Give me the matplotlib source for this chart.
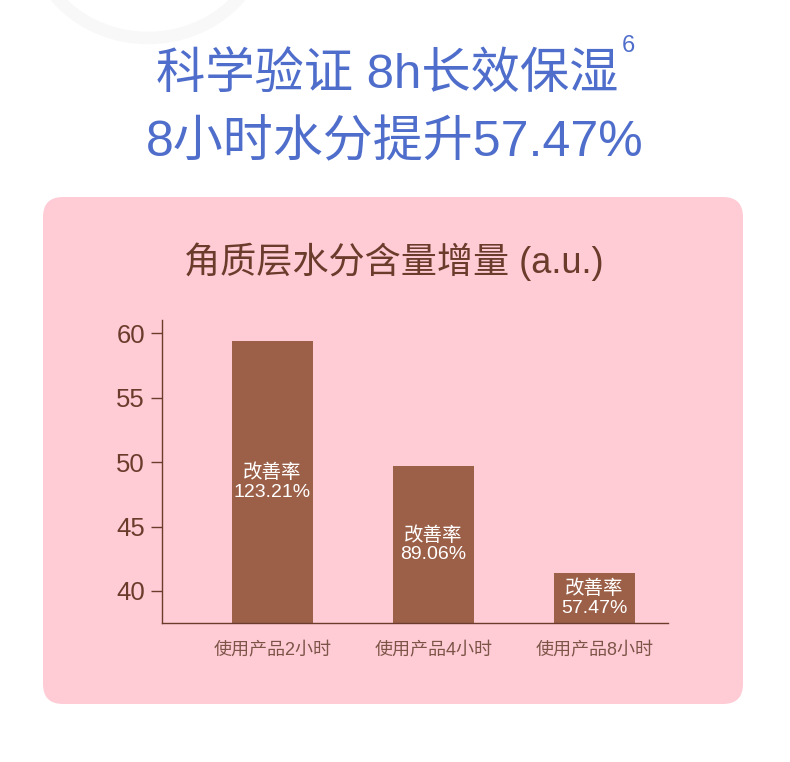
import matplotlib.pyplot as plt
from matplotlib.patches import FancyBboxPatch, Ellipse

# data
groups = ['使用产品2小时', '使用产品4小时', '使用产品8小时']
values = [59.4, 49.7, 41.4]
rates = ['123.21%', '89.06%', '57.47%']
yticks = [40, 45, 50, 55, 60]

W, H = 790, 762
fams = ['Liberation Sans', 'Noto Sans CJK SC']
plt.rcParams['font.family'] = fams

fig = plt.figure(figsize=(W / 100, H / 100), dpi=100)
fig.patch.set_facecolor('white')

# faint decorative arc at top-left
bg = fig.add_axes([0, 0, 1, 1])
bg.set_xlim(0, W)
bg.set_ylim(H, 0)
bg.axis('off')
bg.add_patch(Ellipse((148, -72), 236, 220, facecolor='none',
                     edgecolor='#f7f8f7', lw=9))

# pink panel
bg.add_patch(FancyBboxPatch((63, 217), 660, 467,
                            boxstyle='round,pad=20', facecolor='#ffccd6',
                            edgecolor='none'))

blue = '#4f6dcb'
bg.text(387, 75, '科学验证 8h长效保湿', color=blue, fontsize=35.5,
        ha='center', va='center')
bg.text(628, 46, '6', color=blue, fontsize=17, ha='center', va='center')
bg.text(395, 143, '8小时水分提升57.47%', color=blue, fontsize=36,
        ha='center', va='center')

bg.text(394, 262, '角质层水分含量增量 (a.u.)', color='#6b3b2c', fontsize=26,
        ha='center', va='center')

# chart axes
ax = fig.add_axes([161.7 / W, 1 - 623.3 / H, (668.3 - 161.7) / W, (623.3 - 320) / H])
ax.set_facecolor('none')
x = range(len(groups))
ax.bar(x, values, width=0.5, color='#9c6049', zorder=2)
ax.set_xlim(-0.688, 2.458)
ax.set_ylim(37.49, 61.03)

for i, (v, r) in enumerate(zip(values, rates)):
    ax.text(i, (37.49 + v) / 2, '改善率\n' + r, color='white', fontsize=14,
            ha='center', va='center', linespacing=1.12, zorder=3)

ax.set_yticks(yticks)
ax.set_yticklabels([str(t) for t in yticks])
ax.set_xticks(list(x))
ax.set_xticklabels(groups)
ax.tick_params(axis='y', colors='#6b3b2c', labelsize=18.5, length=8, width=1, pad=4)
ax.tick_params(axis='x', length=0, labelsize=13, labelcolor='#7d5548', pad=14)
for s in ['top', 'right']:
    ax.spines[s].set_visible(False)
for s in ['left', 'bottom']:
    ax.spines[s].set_color('#6b3b2c')
    ax.spines[s].set_linewidth(1)

fig.savefig('out.png', dpi=100)
